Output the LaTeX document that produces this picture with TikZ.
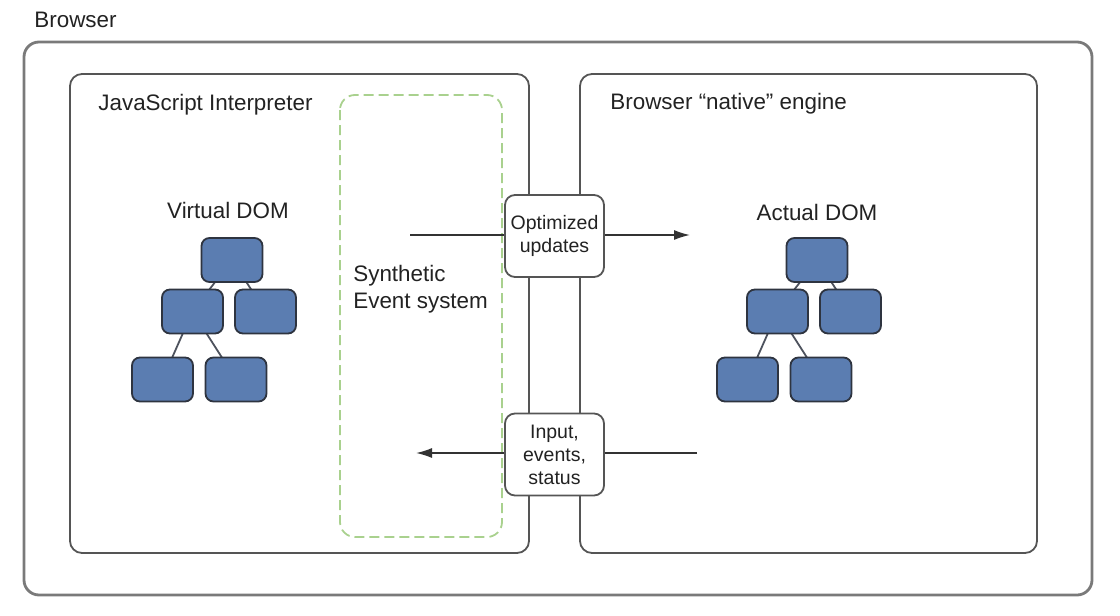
\documentclass[tikz,border=0pt]{standalone}
\usepackage{fontspec}
\setmainfont{Liberation Sans}
\usetikzlibrary{arrows.meta}
\definecolor{nodeblue}{HTML}{5B7DB1}
\definecolor{nodeedge}{HTML}{2E3440}
\definecolor{boxedge}{HTML}{555555}
\definecolor{outeredge}{HTML}{7A7A7A}
\definecolor{dashgreen}{HTML}{A9D18E}
\definecolor{txt}{HTML}{222222}
\tikzset{
  treenode/.style={draw=nodeedge, fill=nodeblue, line width=0.9pt, rounded corners=4pt,
    minimum width=30.5pt, minimum height=22pt, inner sep=0pt},
  treeline/.style={draw=nodeedge!85, line width=0.9pt},
  flowbox/.style={draw=boxedge, fill=white, line width=0.9pt, rounded corners=5pt,
    minimum width=49.5pt, minimum height=41pt, inner sep=0pt, align=center,
    font=\fontsize{9.75pt}{11.5pt}\selectfont, text=txt},
  container/.style={draw=boxedge, line width=0.9pt, rounded corners=6pt},
  outer/.style={draw=outeredge, line width=1.4pt, rounded corners=7.5pt},
  titletext/.style={font=\fontsize{11.2pt}{13.5pt}\selectfont, text=txt, inner sep=0pt},
  arr/.style={draw=black!80, line width=0.7pt, -{Latex[length=8pt,width=5pt]}},
  plainline/.style={draw=black!80, line width=0.7pt},
}
\begin{document}
\begin{tikzpicture}[x=0.5pt, y=-0.5pt]
\useasboundingbox (0,0) rectangle (1120,616);
% containers
\draw[outer] (24,42) rectangle (1092,595);
\draw[container] (70,74) rectangle (529,553);
\draw[container] (580,74) rectangle (1037,553);
\draw[draw=dashgreen, line width=0.9pt, dash pattern=on 5pt off 2.5pt, rounded corners=7.5pt] (340,95) rectangle (502,537);
% titles
\node[titletext, anchor=base west] (browser) at (34,27) {Browser};
\node[titletext, anchor=base west] (jsint) at (98,110) {JavaScript Interpreter};
\node[titletext, anchor=base west] (native) at (610,109) {Browser “native” engine};
\node[titletext, anchor=base west, align=left] (synth) at (353,308) {Synthetic\\Event system};
% virtual DOM tree
\node[titletext, anchor=base] (vlabel) at (228,218) {Virtual DOM};
\coordinate (vtc) at (232,260);
\coordinate (vmlc) at (192.5,311.5);
\coordinate (vmrc) at (265.5,311.5);
\coordinate (vblc) at (162.5,379.5);
\coordinate (vbrc) at (236,379.5);
\draw[treeline] (vtc) -- (vmlc);
\draw[treeline] (vtc) -- (vmrc);
\draw[treeline] (vmlc) -- (vblc);
\draw[treeline] (vmlc) -- (vbrc);
\node[treenode] (vt) at (vtc) {};
\node[treenode] (vml) at (vmlc) {};
\node[treenode] (vmr) at (vmrc) {};
\node[treenode] (vbl) at (vblc) {};
\node[treenode] (vbr) at (vbrc) {};
% actual DOM tree
\node[titletext, anchor=base] (alabel) at (817,220) {Actual DOM};
\coordinate (atc) at (817,260);
\coordinate (amlc) at (777.5,311.5);
\coordinate (amrc) at (850.5,311.5);
\coordinate (ablc) at (747.5,379.5);
\coordinate (abrc) at (821,379.5);
\draw[treeline] (atc) -- (amlc);
\draw[treeline] (atc) -- (amrc);
\draw[treeline] (amlc) -- (ablc);
\draw[treeline] (amlc) -- (abrc);
\node[treenode] (at) at (atc) {};
\node[treenode] (aml) at (amlc) {};
\node[treenode] (amr) at (amrc) {};
\node[treenode] (abl) at (ablc) {};
\node[treenode] (abr) at (abrc) {};
% flow boxes
\node[flowbox] (opt) at (554.5,236) {Optimized\\updates};
\node[flowbox] (inp) at (554.5,454.5) {Input,\\events,\\status};
\coordinate (ostart) at (410,235);
\coordinate (oend) at (690,235);
\coordinate (istart) at (697,453);
\coordinate (iend) at (416,453);
\draw[plainline] (ostart) -- (opt.west |- ostart);
\draw[arr] (opt.east |- oend) -- (oend);
\draw[plainline] (istart) -- (inp.east |- istart);
\draw[arr] (inp.west |- iend) -- (iend);
\end{tikzpicture}
\end{document}
